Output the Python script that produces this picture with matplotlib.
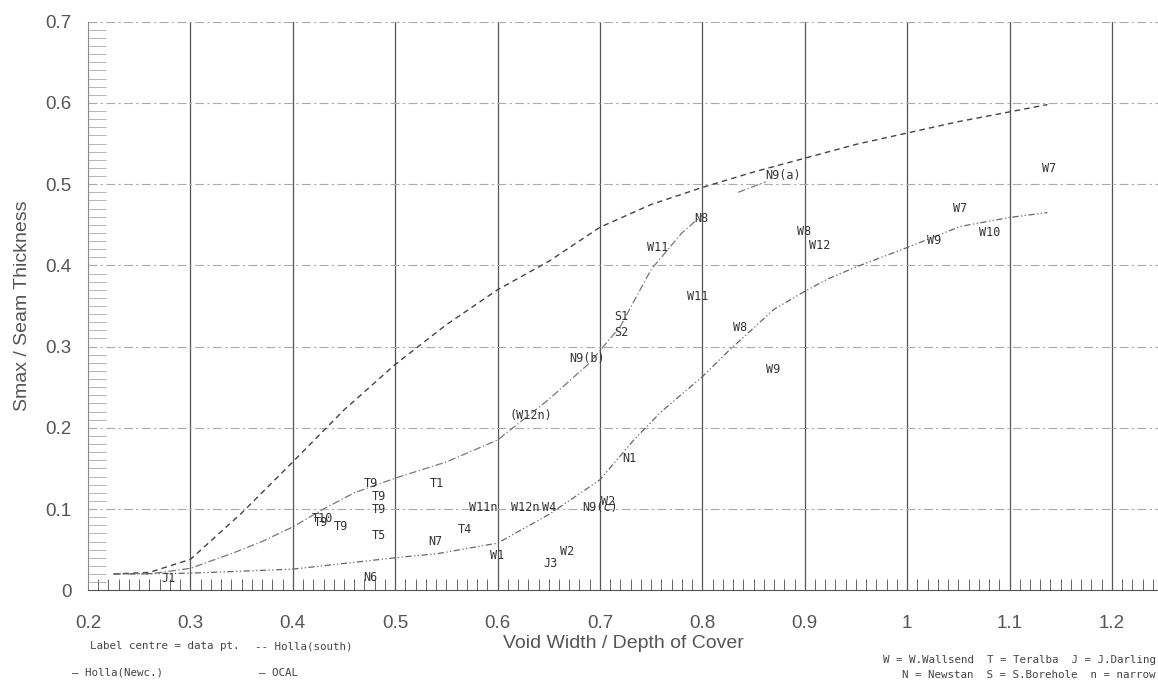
import numpy as np
import matplotlib.pyplot as plt
from matplotlib.ticker import MultipleLocator

# curves
south_x = [0.225, 0.26, 0.30, 0.35, 0.40, 0.45, 0.50, 0.55, 0.60, 0.65, 0.70, 0.75, 0.80, 0.85, 0.90, 0.95, 1.00, 1.05, 1.10, 1.137]
south_y = [0.020, 0.022, 0.038, 0.095, 0.158, 0.222, 0.278, 0.327, 0.370, 0.405, 0.447, 0.475, 0.496, 0.515, 0.532, 0.549, 0.563, 0.577, 0.589, 0.598]

newc_x = [0.225, 0.26, 0.30, 0.34, 0.37, 0.40, 0.43, 0.46, 0.50, 0.55, 0.60, 0.65, 0.69, 0.72, 0.75, 0.78, 0.80, np.nan, 0.835, 0.862]
newc_y = [0.020, 0.020, 0.027, 0.045, 0.060, 0.078, 0.100, 0.120, 0.138, 0.158, 0.185, 0.235, 0.280, 0.325, 0.395, 0.440, 0.462, np.nan, 0.490, 0.503]

ocal_x = [0.225, 0.30, 0.40, 0.45, 0.50, 0.541, 0.60, 0.651, 0.70, 0.733, 0.76, 0.80, 0.825, 0.87, 0.90, 0.922, 0.95, 1.00, 1.052, 1.10, 1.137]
ocal_y = [0.020, 0.021, 0.026, 0.033, 0.040, 0.045, 0.058, 0.094, 0.136, 0.185, 0.220, 0.263, 0.294, 0.346, 0.368, 0.383, 0.398, 0.422, 0.448, 0.459, 0.465]

labels = ['J1', 'N6', 'T10', 'T9', 'T9', 'T9', 'T9', 'T9', 'T5', 'T1', 'N7', 'T4',
          'W11n', 'W1', 'W12n', 'W4', 'N9(c)', 'W2', 'J3', 'W2', 'N1', '(W12n)',
          'N9(b)', 'S1', 'S2', 'W11', 'N8', 'W11', 'W8', 'W9', 'N9(a)', 'W8',
          'W12', 'W9', 'W7', 'W10', 'W7']
lab_x = [0.279, 0.476, 0.429, 0.427, 0.447, 0.476, 0.484, 0.484, 0.484, 0.541, 0.539, 0.568,
         0.586, 0.600, 0.627, 0.650, 0.700, 0.708, 0.652, 0.668, 0.729, 0.633,
         0.687, 0.721, 0.721, 0.756, 0.799, 0.795, 0.837, 0.869, 0.879, 0.899,
         0.915, 1.026, 1.052, 1.081, 1.139]
lab_y = [0.015, 0.016, 0.088, 0.083, 0.078, 0.131, 0.115, 0.099, 0.067, 0.131, 0.060, 0.075,
         0.102, 0.043, 0.102, 0.102, 0.102, 0.109, 0.033, 0.048, 0.162, 0.215,
         0.285, 0.337, 0.317, 0.422, 0.458, 0.362, 0.323, 0.272, 0.511, 0.442,
         0.425, 0.431, 0.470, 0.440, 0.519]

x_ticks = [0.2, 0.3, 0.4, 0.5, 0.6, 0.7, 0.8, 0.9, 1.0, 1.1, 1.2]
x_ticklabels = ['0.2', '0.3', '0.4', '0.5', '0.6', '0.7', '0.8', '0.9', '1', '1.1', '1.2']
y_ticks = [0, 0.1, 0.2, 0.3, 0.4, 0.5, 0.6, 0.7]
y_ticklabels = ['0', '0.1', '0.2', '0.3', '0.4', '0.5', '0.6', '0.7']

plt.rcParams['font.family'] = ['Liberation Sans', 'DejaVu Sans']

fig = plt.figure(figsize=(11.58, 6.8), dpi=100)
ax = fig.add_axes([0.076, 0.132, 0.924, 0.836])

grey = '#555555'
ax.plot(south_x, south_y, color='#444444', lw=1.0, linestyle=(0, (4, 3)))
ax.plot(newc_x, newc_y, color='#777777', lw=0.9, linestyle=(0, (6, 2, 1, 2)))
ax.plot(ocal_x, ocal_y, color='#666666', lw=0.9, linestyle=(0, (5, 2, 1, 2, 1, 2)))

for t, x, y in zip(labels, lab_x, lab_y):
    ax.text(x, y, t, ha='center', va='center', fontsize=8.5, family='DejaVu Sans Mono', color='#333333')

ax.set_xlim(0.2, 1.245)
ax.set_ylim(0, 0.7)
ax.set_xticks(x_ticks)
ax.set_xticklabels(x_ticklabels)
ax.set_yticks(y_ticks)
ax.set_yticklabels(y_ticklabels)
ax.xaxis.set_minor_locator(MultipleLocator(0.01))
ax.yaxis.set_minor_locator(MultipleLocator(0.01))
ax.tick_params(which='major', length=0, labelsize=13.5, labelcolor=grey)
ax.tick_params(axis='x', which='major', pad=18)
ax.tick_params(axis='y', which='major', pad=12)
ax.tick_params(axis='x', which='minor', direction='in', length=8, width=0.7, color='#666666')
ax.tick_params(axis='y', which='minor', direction='in', length=13, width=0.5, color='#999999')

for v in x_ticks[1:]:
    ax.axvline(v, color='#555555', lw=0.9, zorder=0)
for v in y_ticks[1:]:
    ax.axhline(v, color='#aaaaaa', lw=0.8, linestyle=(0, (8, 3, 2, 3)), zorder=0)

for s in ['top', 'right']:
    ax.spines[s].set_visible(False)
ax.spines['left'].set_color('#888888')
ax.spines['bottom'].set_color('#555555')

ax.set_xlabel('Void Width / Depth of Cover', fontsize=14, color=grey, labelpad=2)
ax.set_ylabel('Smax / Seam Thickness', fontsize=14, color=grey, labelpad=10)

mono = dict(fontsize=7.8, family='DejaVu Sans Mono', color='#444444')
fig.text(0.078, 0.045, 'Label centre = data pt.', **mono)
fig.text(0.22, 0.045, '-- Holla(south)', **mono)
fig.text(0.062, 0.006, '— Holla(Newc.)', **mono)
fig.text(0.224, 0.006, '— OCAL', **mono)
fig.text(0.998, 0.025, 'W = W.Wallsend  T = Teralba  J = J.Darling', ha='right', **mono)
fig.text(0.998, 0.003, 'N = Newstan  S = S.Borehole  n = narrow', ha='right', **mono)

fig.savefig('out.png', dpi=100)
